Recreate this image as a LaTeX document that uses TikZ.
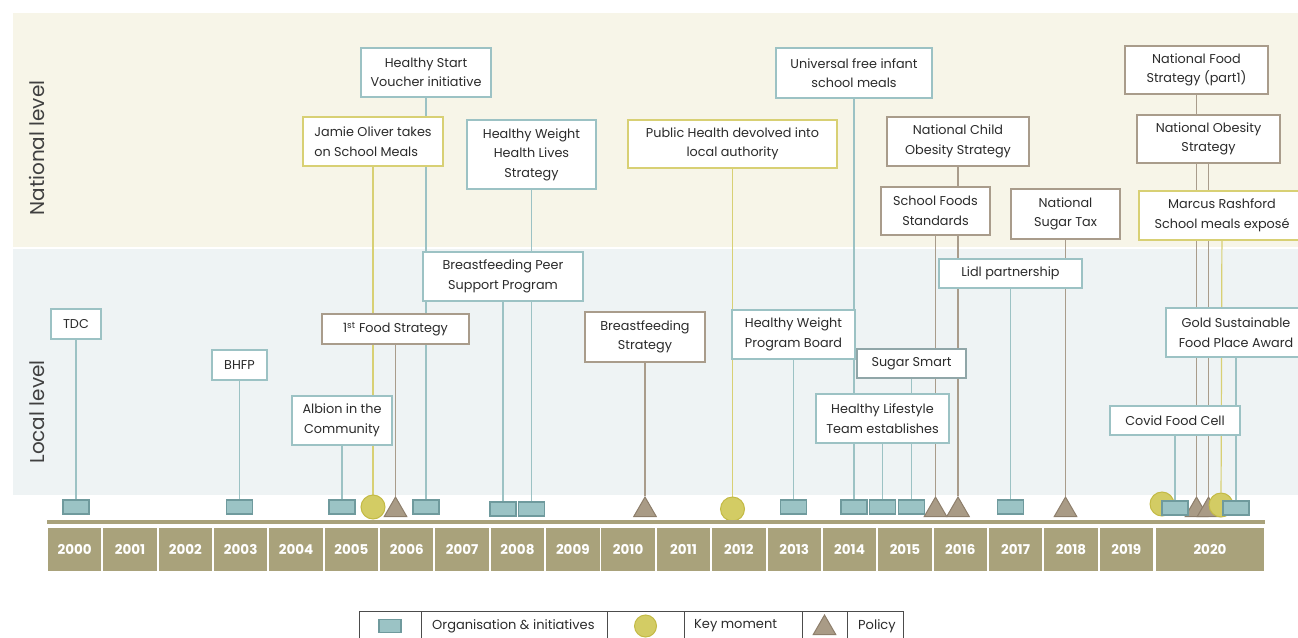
\documentclass[tikz,border=0pt]{standalone}
\usepackage{fontspec}
\setmainfont{Poppins}
\usetikzlibrary{shapes.geometric, positioning}

\definecolor{natband}{HTML}{F7F5E8}
\definecolor{locband}{HTML}{EEF3F4}
\definecolor{orgline}{HTML}{9CC2C4}
\definecolor{orgfill}{HTML}{9BC3C5}
\definecolor{orgdark}{HTML}{6F9A9D}
\definecolor{ssline}{HTML}{90A6A8}
\definecolor{keyline}{HTML}{D8D074}
\definecolor{keyfill}{HTML}{D3CC64}
\definecolor{keydark}{HTML}{C3BA45}
\definecolor{polline}{HTML}{A99C8B}
\definecolor{polfill}{HTML}{A99B86}
\definecolor{poldark}{HTML}{8D7E6B}
\definecolor{yearfill}{HTML}{A9A27B}
\definecolor{txtgrey}{HTML}{2B2B2B}

\pgfdeclarelayer{bands}
\pgfdeclarelayer{links}
\pgfsetlayers{bands,links,main}

\newcommand{\boxfont}{\fontsize{12.8}{19.5}\selectfont}

\begin{document}
\begin{tikzpicture}[x=1pt, y=-1pt,
		% event boxes
		evt/.style = {draw, line width=1.8pt, fill=white, align=center, inner sep=2pt, font=\boxfont, text=txtgrey},
		org/.style = {evt, draw=orgline},
		key/.style = {evt, draw=keyline},
		pol/.style = {evt, draw=polline},
		sz/.style 2 args = {minimum width=#1pt, minimum height=#2pt},
		% markers on the time line
		orgmark/.style = {draw=orgdark, fill=orgfill, line width=1.2pt, minimum width=26pt, minimum height=14pt, inner sep=0pt},
		keymark/.style = {circle, draw=keydark, fill=keyfill, line width=1pt, minimum size=24pt, inner sep=0pt},
		polmark/.style = {regular polygon, regular polygon sides=3, draw=poldark, fill=polfill, line width=1pt, minimum size=26pt, inner sep=0pt},
		orglink/.style = {orgline, line width=1.2pt},
		keylink/.style = {keyline, line width=1.2pt},
		pollink/.style = {polline, line width=1.2pt},
		yearbox/.style = {fill=yearfill, minimum width=53.4pt, minimum height=43pt, inner sep=0pt, text=white, font=\fontsize{13.5}{15}\selectfont\bfseries},
		legcell/.style = {draw=black!70, line width=1pt, minimum height=30pt, inner sep=0pt, outer sep=0pt, anchor=west},
		legtext/.style = {anchor=west, font=\fontsize{13}{15}\selectfont, text=txtgrey, inner sep=0pt},
		level/.style = {rotate=90, font=\fontsize{20}{24}\selectfont, text=black!75}
		]
		
		\useasboundingbox (0,0) rectangle (1298,637);
		
		% --- BANDAS ---
		\begin{pgfonlayer}{bands}
			\fill[natband] (13,13) rectangle (1298,247);
			\fill[locband] (13,249) rectangle (1298,495);
		\end{pgfonlayer}
		\node[level] (natlab) at (37,148) {National level};
		\node[level] (loclab) at (37,412) {Local level};
		
		% --- NIVEL NACIONAL ---
		\node[org, sz={130}{49}] (hsv) at (426,72.5) {Healthy Start\\Voucher initiative};
		\node[key, sz={140}{49}, align=left] (jamie) at (373,141.5) {Jamie Oliver takes\\on School Meals};
		\node[org, sz={129}{69}] (hwhl) at (531.5,154.5) {Healthy Weight\\Health Lives\\Strategy};
		\node[key, sz={209}{48}] (phla) at (732.5,144) {Public Health devolved into\\local authority};
		\node[org, sz={156}{50}] (ufism) at (854,73) {Universal free infant\\school meals};
		\node[pol, sz={142}{49}] (ncos) at (958,141.5) {National Child\\Obesity Strategy};
		\node[pol, sz={109}{48}] (sfs) at (935.5,211) {School Foods\\Standards};
		\node[pol, sz={109}{50}] (nst) at (1065.5,214) {National\\Sugar Tax};
		\node[pol, sz={143}{48}] (nfs) at (1196.5,70) {National Food\\Strategy (part1)};
		\node[pol, sz={143}{48}] (nos) at (1208.5,139) {National Obesity\\Strategy};
		\node[key, sz={166}{49}] (rash) at (1222,215.5) {Marcus Rashford\\School meals exposé};
		
		% --- NIVEL LOCAL ---
		\node[org, sz={50}{30}] (tdc) at (76,324) {TDC};
		\node[org, sz={55}{30}] (bhfp) at (239.5,365) {BHFP};
		\node[org, sz={100}{49}] (albion) at (342,420.5) {Albion in the\\Community};
		\node[pol, sz={147}{30}] (fs1) at (395.5,329) {1\textsuperscript{st} Food Strategy};
		\node[org, sz={160}{49}] (bpsp) at (503,276.5) {Breastfeeding Peer\\Support Program};
		\node[pol, sz={120}{50}] (bfs) at (645,337) {Breastfeeding\\Strategy};
		\node[org, sz={123}{49}] (hwpb) at (793.5,334.5) {Healthy Weight\\Program Board};
		\node[org, draw=ssline, sz={109}{29}] (ssm) at (911.5,363.5) {Sugar Smart};
		\node[org, sz={133}{49}] (hlte) at (882.5,418.5) {Healthy Lifestyle\\Team establishes};
		\node[org, sz={143}{29}] (lidl) at (1010.5,273.5) {Lidl partnership};
		\node[org, sz={140}{49}] (gold) at (1236,332.5) {Gold Sustainable\\Food Place Award};
		\node[org, sz={130}{29}] (covid) at (1175,420.5) {Covid Food Cell};
		
		% --- MARCADORES ---
		\coordinate (row) at (0,507);
		\coordinate (trow) at (0,510);
		\node[polmark] (mfs1) at (fs1 |- trow) {};
		\node[polmark] (mbfs) at (bfs |- trow) {};
		\node[polmark] (msfs) at (sfs |- trow) {};
		\node[polmark] (mncos) at (ncos |- trow) {};
		\node[polmark] (mnst) at (nst |- trow) {};
		\node[polmark] (mnfs) at (nfs |- trow) {};
		\node[polmark] (mnos) at (nos |- trow) {};
		\node[keymark] (mjamie) at (jamie |- row) {};
		\node[keymark] (mphla) at (732.5,509) {};
		\node[keymark] (mcovk) at (1162,504) {};
		\node[keymark] (mrash) at (1221,505) {};
		\node[orgmark] (mtdc) at (tdc |- row) {};
		\node[orgmark] (mbhfp) at (bhfp |- row) {};
		\node[orgmark] (malbion) at (albion |- row) {};
		\node[orgmark] (mhsv) at (hsv |- row) {};
		\node[orgmark] (mbpsp) at (503,509) {};
		\node[orgmark] (mhwhl) at (531.5,509) {};
		\node[orgmark] (mhwpb) at (hwpb |- row) {};
		\node[orgmark] (mufism) at (ufism |- row) {};
		\node[orgmark] (mhlte) at (hlte |- row) {};
		\node[orgmark] (mssm) at (ssm |- row) {};
		\node[orgmark] (mlidl) at (lidl |- row) {};
		\node[orgmark] (mcovid) at (1175,508) {};
		\node[orgmark] (mgold) at (1236,508) {};
		
		% --- CONEXIONES ---
		\begin{pgfonlayer}{links}
			\foreach \n in {tdc, bhfp, albion, hsv, bpsp, hwhl, hwpb, ufism, hlte, ssm, lidl, covid, gold}
			\draw[orglink] (\n) -- (m\n);
			\foreach \n in {jamie, phla, rash}
			\draw[keylink] (\n) -- (m\n);
			\foreach \n in {fs1, bfs, sfs, ncos, nst, nfs, nos}
			\draw[pollink] (\n) -- (m\n);
		\end{pgfonlayer}
		
		% --- EJE DE AÑOS ---
		\fill[yearfill] (47,520) rectangle (1265,524);
		\foreach \yr [count=\i from 0] in {2000,...,2019}
		\node[yearbox] (y\yr) at ({47+(\i+0.5)*55.35},549.5) {\yr};
		\node[yearbox, minimum width=108pt] (y2020) at (1210,549.5) {2020};
		
		% --- LEYENDA ---
		\node[legcell, minimum width=62pt] (lc1) at (359,626) {};
		\node[legcell, minimum width=186pt, right=0pt of lc1] (lc2) {};
		\node[legcell, minimum width=77pt, right=0pt of lc2] (lc3) {};
		\node[legcell, minimum width=118pt, right=0pt of lc3] (lc4) {};
		\node[legcell, minimum width=45pt, right=0pt of lc4] (lc5) {};
		\node[legcell, minimum width=56pt, right=0pt of lc5] (lc6) {};
		\node[orgmark, minimum width=22pt, minimum height=13pt] (lorg) at (lc1) {};
		\node[keymark, minimum size=22pt] (lkey) at (lc3) {};
		\node[polmark, minimum size=26pt] (lpol) at ([yshift=-2pt]lc5.center) {};
		\node[legtext] (lorgt) at ([xshift=11pt]lc2.west) {Organisation \& initiatives};
		\node[legtext] (lkeyt) at ([xshift=10pt]lc4.west) {Key moment};
		\node[legtext] (lpolt) at ([xshift=11pt]lc6.west) {Policy};
		
	\end{tikzpicture}
\end{document}
